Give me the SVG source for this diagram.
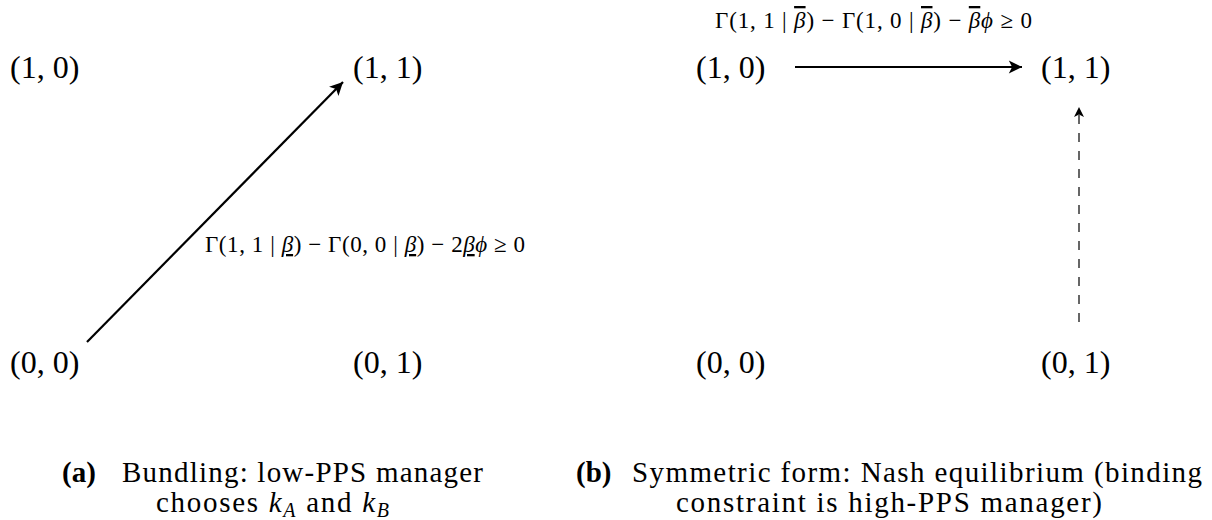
<svg xmlns="http://www.w3.org/2000/svg" width="1212" height="520" viewBox="0 0 1212 520">
<style>
text{font-family:"Liberation Serif","DejaVu Serif",serif;fill:#000}
.node{font-size:32px}
.lbl{font-size:23px}
.cap{font-size:29px}
.b{font-weight:bold}
.i{font-style:italic}
.ul{text-decoration:underline}
.ol{text-decoration:overline}
.edge{stroke:#000;stroke-width:2.2;fill:none}
.dash{stroke:#666;stroke-width:2;stroke-dasharray:9 9;fill:none}
</style>
<defs>
<marker id="ah" viewBox="0 0 10 10" refX="10" refY="5" markerWidth="7" markerHeight="6" orient="auto" markerUnits="strokeWidth">
<path d="M0,0 L10,5 L0,10 L2.5,5 Z" fill="#000"/>
</marker>
<marker id="ahs" viewBox="0 0 10 10" refX="10" refY="5" markerWidth="5" markerHeight="5" orient="auto" markerUnits="strokeWidth">
<path d="M0,0 L10,5 L0,10 L2.5,5 Z" fill="#000"/>
</marker>
</defs>
<g id="connectors">
<line class="edge" x1="87" y1="342" x2="343" y2="82" marker-end="url(#ah)"/>
<line class="edge" x1="795" y1="67" x2="1022" y2="67" marker-end="url(#ah)"/>
<line class="dash" x1="1079" y1="322" x2="1079" y2="107" marker-end="url(#ahs)"/>
</g>
<g id="label-a"><text class="lbl" x="205" y="252" textLength="320" lengthAdjust="spacing">Γ(1, 1 | <tspan class="i ul">β</tspan>) − Γ(0, 0 | <tspan class="i ul">β</tspan>) − 2<tspan class="i ul">β</tspan><tspan class="i">ϕ</tspan> ≥ 0</text></g>
<g id="label-b"><text class="lbl" x="715" y="28" textLength="317" lengthAdjust="spacing">Γ(1, 1 | <tspan class="i ol">β</tspan>) − Γ(1, 0 | <tspan class="i ol">β</tspan>) − <tspan class="i ol">β</tspan><tspan class="i">ϕ</tspan> ≥ 0</text></g>
<g id="a-10"><text class="node" x="10" y="78">(1, 0)</text></g>
<g id="a-11"><text class="node" x="353" y="78">(1, 1)</text></g>
<g id="a-00"><text class="node" x="10" y="373">(0, 0)</text></g>
<g id="a-01"><text class="node" x="353" y="373">(0, 1)</text></g>
<g id="b-10"><text class="node" x="696" y="78">(1, 0)</text></g>
<g id="b-11"><text class="node" x="1041" y="78">(1, 1)</text></g>
<g id="b-00"><text class="node" x="696" y="373">(0, 0)</text></g>
<g id="b-01"><text class="node" x="1041" y="373">(0, 1)</text></g>
<g id="caption-a">
<text class="cap b" x="62" y="482">(a)</text>
<text class="cap" x="122" y="482" textLength="361" lengthAdjust="spacing">Bundling: low-PPS manager</text>
<text class="cap" x="156" y="512" textLength="233" lengthAdjust="spacing">chooses <tspan class="i">k</tspan><tspan class="i" font-size="20" dy="5">A</tspan><tspan dy="-5"> and </tspan><tspan class="i">k</tspan><tspan class="i" font-size="20" dy="5">B</tspan></text>
</g>
<g id="caption-b">
<text class="cap b" x="576" y="482">(b)</text>
<text class="cap" x="632" y="482" textLength="570" lengthAdjust="spacing">Symmetric form: Nash equilibrium (binding</text>
<text class="cap" x="676" y="512" textLength="426" lengthAdjust="spacing">constraint is high-PPS manager)</text>
</g>
</svg>
